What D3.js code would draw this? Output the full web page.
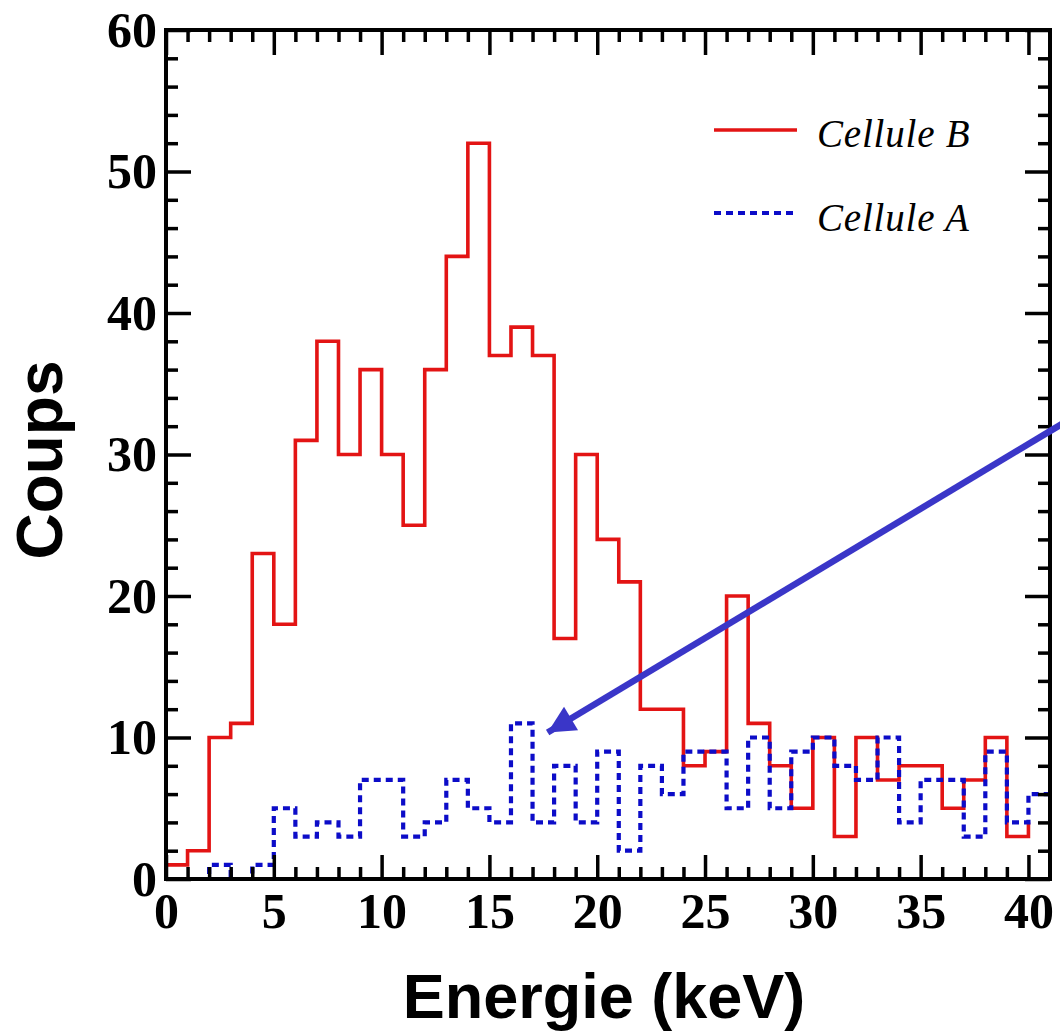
<!DOCTYPE html>
<html>
<head>
<meta charset="utf-8">
<script src="https://cdn.jsdelivr.net/npm/d3@7"></script>
<style>
  html, body { margin: 0; padding: 0; background: #fff; }
  svg { display: block; }
</style>
</head>
<body>
<svg id="chart" width="1060" height="1031"></svg>
<script>
// ---- data (counts per 1 keV bin, starting energy 0,1,2,...) ----
const celluleB = [1,2,10,11,23,18,31,38,30,36,30,25,36,44,52,37,39,37,17,30,24,21,12,12,8,9,20,11,8,5,10,3,10,7,8,8,5,7,10,3,4];
const celluleA = [0,0,1,0,1,5,3,4,3,7,7,3,4,7,5,4,11,4,8,4,9,2,8,6,9,9,5,10,5,9,10,8,7,10,4,7,7,3,9,4,6,6];
const xTicks = [0,5,10,15,20,25,30,35,40];
const yTicks = [0,10,20,30,40,50,60];
const seriesNames = ["Cellule B", "Cellule A"];
const xTitle = "Energie (keV)";
const yTitle = "Coups";
// arrow annotation (data coordinates): from tail to head
const arrowTail = [41.6, 32.2];
const arrowHead = [17.7, 10.35];

const svg = d3.select("#chart");
const L = 166, R = 1050, T = 30, B = 879;
const x = d3.scaleLinear().domain([0, 41]).range([L, R]);
const y = d3.scaleLinear().domain([0, 60]).range([B, T]);

const red = "#e31414", blue = "#0c0cc8";
const tickFont = "'Liberation Serif', 'Times New Roman', serif";

// histograms (step lines)
const line = d3.line().x((d, i) => x(i)).y(d => y(d)).curve(d3.curveStepAfter);
const plot = svg.append("g");
plot.append("path").datum(celluleB).attr("d", line)
  .attr("fill", "none").attr("stroke", red).attr("stroke-width", 3.6);
plot.append("path").datum(celluleA).attr("d", line)
  .attr("fill", "none").attr("stroke", blue).attr("stroke-width", 4.2)
  .attr("stroke-dasharray", "7,5");

// axes
function styleAxis(g) {
  g.select(".domain").remove();
  g.selectAll(".tick line").attr("stroke", "#000").attr("stroke-width", 3.5);
  g.selectAll(".tick text").attr("font-family", tickFont).attr("font-weight", "bold")
    .attr("font-size", 50).attr("fill", "#000");
}
const xMinor = d3.range(0, 41, 1).filter(v => v % 5 !== 0);
const yMinor = d3.range(0, 61, 2).filter(v => v % 10 !== 0);

svg.append("g").attr("transform", `translate(0,${B})`)
  .call(d3.axisBottom(x).tickValues(xTicks).tickSize(-24).tickPadding(13).tickFormat(d3.format("d"))).call(styleAxis);
svg.append("g").attr("transform", `translate(0,${B})`)
  .call(d3.axisBottom(x).tickValues(xMinor).tickSize(-12).tickFormat("")).call(styleAxis);
svg.append("g").attr("transform", `translate(0,${T})`)
  .call(d3.axisTop(x).tickValues(xTicks).tickSize(-25).tickFormat("")).call(styleAxis);
svg.append("g").attr("transform", `translate(0,${T})`)
  .call(d3.axisTop(x).tickValues(xMinor).tickSize(-12).tickFormat("")).call(styleAxis);

svg.append("g").attr("transform", `translate(${L},0)`)
  .call(d3.axisLeft(y).tickValues(yTicks).tickSize(-25).tickPadding(9).tickFormat(d3.format("d"))).call(styleAxis);
svg.append("g").attr("transform", `translate(${L},0)`)
  .call(d3.axisLeft(y).tickValues(yMinor).tickSize(-12).tickFormat("")).call(styleAxis);
svg.append("g").attr("transform", `translate(${R},0)`)
  .call(d3.axisRight(y).tickValues(yTicks).tickSize(-25).tickFormat("")).call(styleAxis);
svg.append("g").attr("transform", `translate(${R},0)`)
  .call(d3.axisRight(y).tickValues(yMinor).tickSize(-12).tickFormat("")).call(styleAxis);

// frame
svg.append("rect").attr("x", L).attr("y", T).attr("width", R - L).attr("height", B - T)
  .attr("fill", "none").attr("stroke", "#000").attr("stroke-width", 4);

// legend
const leg = svg.append("g");
[[red, null, 130, 147], [blue, "7,5", 213, 231]].forEach((c, i) => {
  leg.append("line").attr("x1", 714).attr("x2", 797).attr("y1", c[2]).attr("y2", c[2])
    .attr("stroke", c[0]).attr("stroke-width", i ? 4.2 : 3.6)
    .attr("stroke-dasharray", c[1]);
  leg.append("text").attr("x", 817).attr("y", c[3]).text(seriesNames[i])
    .attr("font-family", tickFont).attr("font-style", "italic").attr("font-size", 39)
    .attr("letter-spacing", 0.8).attr("fill", "#000");
});

// axis titles
svg.append("text").attr("x", 604).attr("y", 1018).attr("text-anchor", "middle")
  .attr("font-family", "'Liberation Sans', Arial, sans-serif").attr("font-weight", "bold")
  .attr("font-size", 63).attr("fill", "#000").text(xTitle);
svg.append("text").attr("transform", "translate(62,460) rotate(-90)").attr("text-anchor", "middle")
  .attr("font-family", "'Liberation Sans', Arial, sans-serif").attr("font-weight", "bold")
  .attr("font-size", 64).attr("fill", "#000").text(yTitle);

// arrow annotation
const arrowColor = "#3a36c8";
svg.append("defs").append("marker").attr("id", "ah")
  .attr("viewBox", "0 0 10 10").attr("refX", 10).attr("refY", 5)
  .attr("markerWidth", 4.6).attr("markerHeight", 4.2).attr("markerUnits", "strokeWidth")
  .attr("orient", "auto")
  .append("path").attr("d", "M0,0 L10,5 L0,10 Z").attr("fill", arrowColor);
svg.append("line")
  .attr("x1", x(arrowTail[0])).attr("y1", y(arrowTail[1]))
  .attr("x2", x(arrowHead[0])).attr("y2", y(arrowHead[1]))
  .attr("stroke", arrowColor).attr("stroke-width", 6.5)
  .attr("marker-end", "url(#ah)");
</script>
</body>
</html>
